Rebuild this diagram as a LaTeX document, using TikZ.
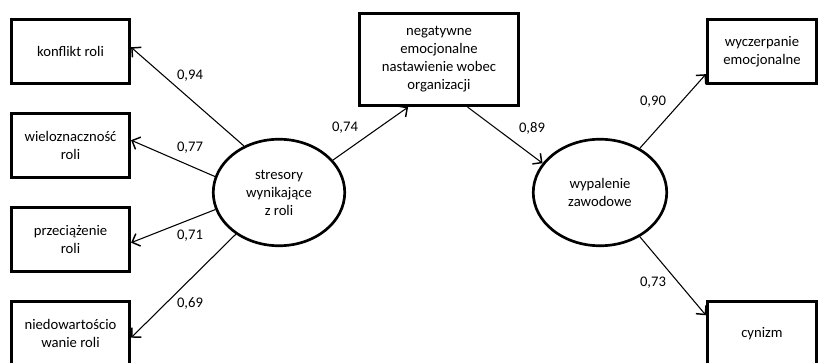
\documentclass[tikz,border=0pt]{standalone}
\usepackage{fontspec}
\setmainfont{Carlito}
\usepackage{tikz}
\usetikzlibrary{arrows.meta,shapes.geometric}

\begin{document}
\begin{tikzpicture}[x=0.75pt, y=-0.75pt,
    every node/.style={font=\fontsize{11}{13.5}\selectfont},
    box/.style={draw, line width=2pt, align=center, inner sep=1pt,
        minimum width=88.9pt, minimum height=48.4pt},
    latent/.style={draw, ellipse, line width=2pt, align=center, inner sep=1pt,
        minimum width=98.6pt, minimum height=79.9pt},
    arr/.style={-{Straight Barb[length=5pt,width=10pt,line width=1.1pt]}, line width=0.8pt},
    lbl/.style={inner sep=0pt}]
            \path[use as bounding box, clip] (0,0) rectangle (819,363);

            % Wskazniki stresorow
            \node[box] (konflikt) at (70.5,51.5) {konflikt roli};
            \node[box] (wielozn) at (70.5,145.5) {wieloznaczność\\roli};
            \node[box] (przeciaz) at (70.5,239.5) {przeciążenie\\roli};
            \node[box] (niedow) at (70.5,333.5) {niedowartościo\\wanie roli};

            % Zmienne latentne
            \node[latent] (stresory) at (279,192.5) {stresory\\wynikające\\z roli};
            \node[latent, minimum width=100.1pt] (wypalenie) at (600,192.5) {wypalenie\\zawodowe};

            % Mediator
            \node[box, minimum width=119.6pt, minimum height=69.4pt] (negatywne) at (439,59.5)
                {negatywne\\emocjonalne\\nastawienie wobec\\organizacji};

            % Wskazniki wypalenia
            \node[box, minimum width=82.1pt] (wyczerp) at (762,51.5) {wyczerpanie\\emocjonalne};
            \node[box, minimum width=82.1pt] (cynizm) at (762,333.5) {cynizm};

            % Sciezki
            \draw[arr] (stresory.127) -- (konflikt.4);
            \draw[arr] (stresory.166) -- (wielozn.5);
            \draw[arr] (stresory.195) -- (przeciaz.-3);
            \draw[arr] (stresory.224) -- (niedow.-4);
            \draw[arr] (stresory.31) -- (negatywne.237);
            \draw[arr] (negatywne.301) -- (wypalenie.153);
            \draw[arr] (wypalenie.48) -- (wyczerp.202);
            \draw[arr] (wypalenie.-48) -- (cynizm.162);

            % Ladunki
            \node[lbl] (l94) at (190,76) {0,94};
            \node[lbl] (l77) at (190,148) {0,77};
            \node[lbl] (l71) at (190,236) {0,71};
            \node[lbl] (l69) at (190,303) {0,69};
            \node[lbl] (l74) at (345,128) {0,74};
            \node[lbl] (l89) at (532,128) {0,89};
            \node[lbl] (l90) at (653,102) {0,90};
            \node[lbl] (l73) at (653,283) {0,73};
        \end{tikzpicture}
\end{document}
